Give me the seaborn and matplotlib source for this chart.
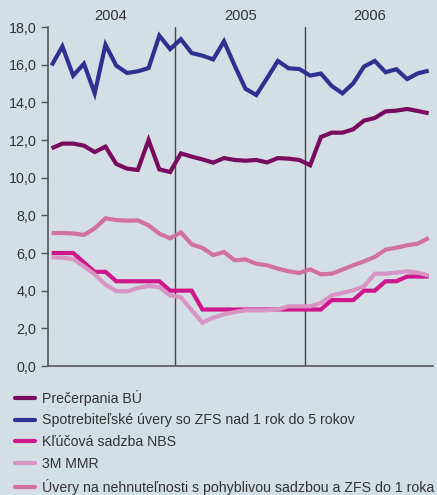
import numpy as np
import pandas as pd
import matplotlib
matplotlib.use("Agg")
import matplotlib.pyplot as plt
import seaborn as sns

# Monthly observations, Jan 2004 - Dec 2006
years = ["2004", "2005", "2006"]

precerpania_bu = [11.56, 11.81, 11.81, 11.70, 11.36, 11.65, 10.73, 10.48, 10.41, 12.00,
                  10.44, 10.30, 11.29, 11.12, 10.97, 10.80, 11.04, 10.94, 10.90, 10.94,
                  10.81, 11.04, 11.01, 10.94, 10.66, 12.16, 12.39, 12.39, 12.57, 13.03,
                  13.17, 13.52, 13.56, 13.65, 13.54, 13.42]

spotrebitelske = [15.96, 16.97, 15.42, 16.05, 14.48, 17.06, 15.95, 15.56, 15.65, 15.82,
                  17.54, 16.83, 17.35, 16.62, 16.48, 16.28, 17.24, 15.94, 14.72, 14.39,
                  15.28, 16.20, 15.81, 15.77, 15.42, 15.53, 14.87, 14.48, 15.01, 15.90,
                  16.20, 15.60, 15.76, 15.24, 15.54, 15.68]

klucova_sadzba = [6.0, 6.0, 6.0, 5.5, 5.0, 5.0, 4.5, 4.5, 4.5, 4.5,
                  4.5, 4.0, 4.0, 4.0, 3.0, 3.0, 3.0, 3.0, 3.0, 3.0,
                  3.0, 3.0, 3.0, 3.0, 3.0, 3.0, 3.5, 3.5, 3.5, 4.0,
                  4.0, 4.5, 4.5, 4.75, 4.75, 4.75]

mmr_3m = [5.77, 5.75, 5.68, 5.29, 4.87, 4.32, 3.98, 3.96, 4.14, 4.25,
          4.19, 3.75, 3.65, 2.96, 2.30, 2.57, 2.74, 2.87, 2.96, 2.96,
          2.96, 3.00, 3.17, 3.17, 3.17, 3.35, 3.75, 3.88, 4.02, 4.23,
          4.90, 4.90, 4.96, 5.03, 4.96, 4.80]

nehnutelnosti = [7.06, 7.06, 7.04, 6.96, 7.31, 7.84, 7.75, 7.72, 7.73, 7.47,
                 7.03, 6.78, 7.10, 6.46, 6.27, 5.89, 6.05, 5.61, 5.66, 5.43,
                 5.35, 5.17, 5.03, 4.94, 5.13, 4.87, 4.90, 5.12, 5.35, 5.56,
                 5.79, 6.18, 6.28, 6.41, 6.50, 6.80]

series_names = [
    "Prečerpania BÚ",
    "Spotrebiteľské úvery so ZFS nad 1 rok do 5 rokov",
    "Kľúčová sadzba NBS",
    "3M MMR",
    "Úvery na nehnuteľnosti s pohyblivou sadzbou a ZFS do 1 roka",
]
series_values = [precerpania_bu, spotrebitelske, klucova_sadzba, mmr_3m, nehnutelnosti]
colors = ["#7a0a5f", "#2e3192", "#d0168c", "#d894c3", "#d2709e"]

frames = []
for name, vals in zip(series_names, series_values):
    frames.append(pd.DataFrame({"mesiac": np.arange(len(vals)), "hodnota": vals, "rad": name}))
df = pd.concat(frames, ignore_index=True)

bg = "#d4dee5"
txt = "#333333"
sns.set_theme(style="white")
plt.rcParams["font.family"] = ["Liberation Sans", "DejaVu Sans"]
plt.rcParams["font.size"] = 10.2

fig = plt.figure(figsize=(4.37, 4.95), dpi=100, facecolor=bg)
ax = fig.add_axes([0.109, 0.2606, 0.881, 0.6848])
ax.set_facecolor(bg)

sns.lineplot(data=df, x="mesiac", y="hodnota", hue="rad", hue_order=series_names,
             palette=colors, linewidth=3.0, ax=ax, legend=False,
             solid_joinstyle="miter", solid_capstyle="butt")

ax.set_xlim(-0.37, 35.37)
ax.set_ylim(0, 18)
ax.set_yticks(np.arange(0, 18.1, 2))
ax.set_yticklabels([f"{v:.1f}".replace(".", ",") for v in np.arange(0, 18.1, 2)],
                   color=txt, fontsize=10.3)
ax.set_xticks([])
ax.set_xlabel("")
ax.set_ylabel("")
ax.tick_params(axis="y", length=5, width=1, color="#555555", left=True, pad=3)

for side in ["top", "right"]:
    ax.spines[side].set_visible(False)
for side in ["left", "bottom"]:
    ax.spines[side].set_color("#555555")
    ax.spines[side].set_linewidth(1.2)

# year separators and labels
for b in [11.5, 23.5]:
    ax.axvline(b, color="#444444", linewidth=1.0, zorder=0)
for i, y in enumerate(years):
    ax.text(5.5 + 12 * i, 1.012, y, transform=ax.get_xaxis_transform(),
            ha="center", va="bottom", color=txt, fontsize=10.5)

handles = [plt.Line2D([0], [0], color=c, linewidth=3.0, solid_capstyle="round") for c in colors]
fig.legend(handles, series_names, loc="upper left", bbox_to_anchor=(0.034, 0.213),
           frameon=False, fontsize=10.2, labelcolor=txt, handlelength=1.45,
           handletextpad=0.45, labelspacing=0.56, borderaxespad=0, borderpad=0)

fig.savefig("out.png", dpi=100, facecolor=bg)
